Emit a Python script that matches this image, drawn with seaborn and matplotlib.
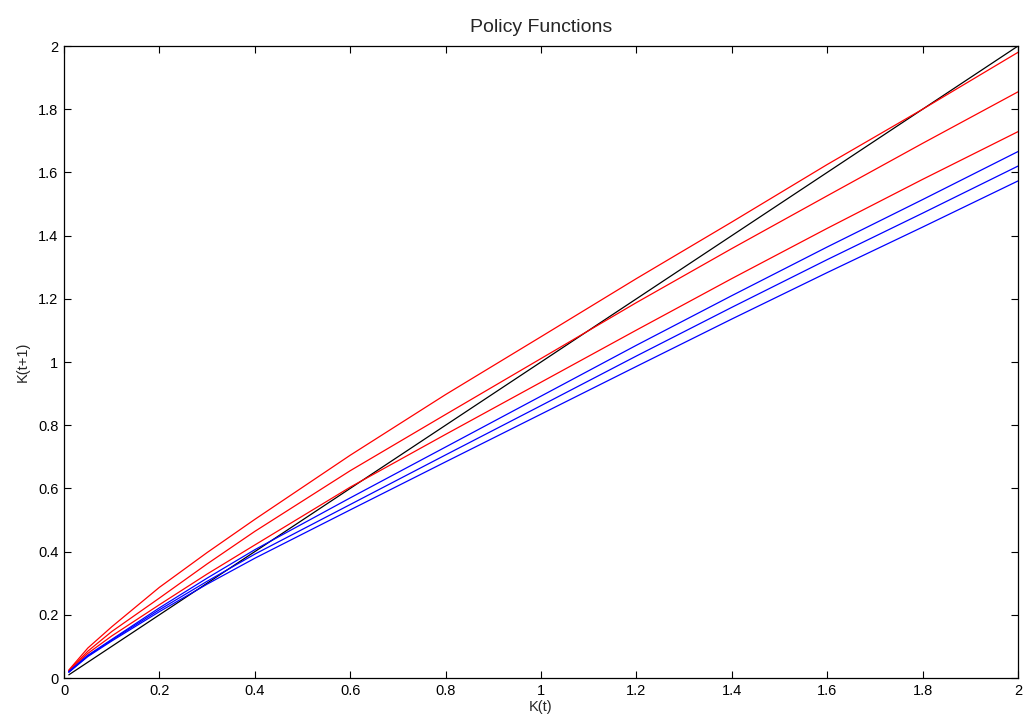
import numpy as np
import pandas as pd
import matplotlib
matplotlib.use("Agg")
import matplotlib.pyplot as plt
import seaborn as sns

# grid points where the curves were read
k_grid = [0.01, 0.05, 0.1, 0.2, 0.3, 0.4, 0.6, 0.8, 1.0, 1.2, 1.4, 1.6, 1.8, 2.0]

red_1 = [0.025, 0.095, 0.162, 0.287, 0.397, 0.502, 0.705, 0.897, 1.080, 1.264, 1.443, 1.625, 1.800, 1.980]
red_2 = [0.023, 0.085, 0.147, 0.253, 0.361, 0.464, 0.656, 0.834, 1.011, 1.188, 1.359, 1.526, 1.692, 1.855]
red_3 = [0.022, 0.078, 0.133, 0.232, 0.329, 0.421, 0.604, 0.771, 0.936, 1.101, 1.264, 1.423, 1.578, 1.729]
blue_1 = [0.020, 0.072, 0.122, 0.222, 0.316, 0.406, 0.570, 0.731, 0.892, 1.053, 1.210, 1.364, 1.514, 1.666]
blue_2 = [0.019, 0.070, 0.120, 0.216, 0.306, 0.392, 0.549, 0.706, 0.862, 1.019, 1.173, 1.324, 1.471, 1.620]
blue_3 = [0.018, 0.068, 0.117, 0.210, 0.297, 0.379, 0.532, 0.684, 0.835, 0.986, 1.136, 1.283, 1.427, 1.573]
diag = k_grid  # 45 degree line

series = {
    "diag": diag,
    "r1": red_1, "r2": red_2, "r3": red_3,
    "b1": blue_1, "b2": blue_2, "b3": blue_3,
}
colors = {"diag": "black", "r1": "red", "r2": "red", "r3": "red",
          "b1": "blue", "b2": "blue", "b3": "blue"}

rows = []
for name, vals in series.items():
    for k, v in zip(k_grid, vals):
        rows.append({"k": k, "k_next": v, "curve": name})
df = pd.DataFrame(rows)

sns.set_theme(style="ticks")
plt.rcParams["font.family"] = ["Liberation Sans", "DejaVu Sans"]
plt.rcParams["xtick.direction"] = "in"
plt.rcParams["ytick.direction"] = "in"

fig = plt.figure(figsize=(10.26, 7.27), dpi=100)
ax = fig.add_axes([0.0624, 0.0674, 0.9298, 0.8693])

sns.lineplot(data=df, x="k", y="k_next", hue="curve", palette=colors,
             estimator=None, sort=False, linewidth=0.9, legend=False, ax=ax)

ticks = np.arange(0, 2.01, 0.2)
tick_labels = ["0", "0.2", "0.4", "0.6", "0.8", "1", "1.2", "1.4", "1.6", "1.8", "2"]
ax.set_xlim(0, 2)
ax.set_ylim(0, 2)
ax.set_xticks(ticks)
ax.set_yticks(ticks)
ax.set_xticklabels(tick_labels)
ax.set_yticklabels(tick_labels)
ax.tick_params(top=True, right=True, length=5, width=0.8, labelsize=10.5, colors="black", pad=4)
for s in ax.spines.values():
    s.set_visible(True)
    s.set_linewidth(0.9)
    s.set_color("black")

ax.set_title("Policy Functions", fontsize=14, pad=10)
ax.set_xlabel("K(t)", fontsize=10.5, labelpad=2)
ax.set_ylabel("K(t+1)", fontsize=10.5, labelpad=6)

fig.savefig("out.png", dpi=100)
plt.close(fig)
